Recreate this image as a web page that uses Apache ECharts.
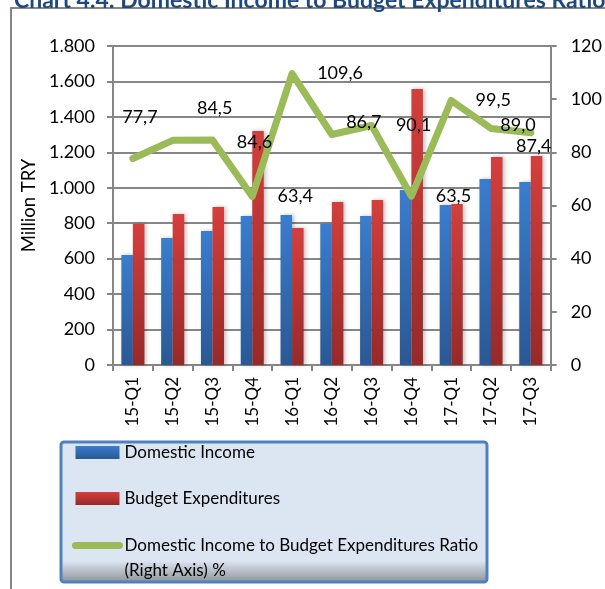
<!DOCTYPE html>
<html>
<head>
<meta charset="utf-8">
<title>Domestic Income to Budget Expenditures Ratio</title>
<script src="https://cdn.jsdelivr.net/npm/echarts@6/dist/echarts.min.js"></script>
<style>
  html, body { margin: 0; padding: 0; background: #fff; }
  #chart { width: 605px; height: 589px; }
</style>
</head>
<body>
<div id="chart"></div>
<script>
// quarters
var quarters = ['15-Q1', '15-Q2', '15-Q3', '15-Q4', '16-Q1', '16-Q2', '16-Q3', '16-Q4', '17-Q1', '17-Q2', '17-Q3'];
// million TRY
var domesticIncome = [620, 717, 756, 841, 846, 796, 841, 988, 903, 1050, 1033];
var budgetExpenditures = [795, 852, 892, 1320, 773, 920, 931, 1558, 909, 1174, 1179];
// ratio % (right axis)
var ratio = [77.7, 84.5, 84.6, 63.4, 109.6, 86.7, 90.1, 63.5, 99.5, 89.0, 87.4];

var seriesNames = ['Domestic Income', 'Budget Expenditures', 'Domestic Income to Budget Expenditures Ratio\n(Right Axis) %'];

// excel put the data labels in odd places, keep them where they were
var ratioLabelOffsets = [[7, -41], [42, -32], [42, 2], [43, 0], [48, 0], [32, -12], [42, 0], [42, 0], [42, 0], [27, -3], [3, 14]];

var font = 'Lato';
var grey = '#868686';

function grad(top, bottom) {
    return new echarts.graphic.LinearGradient(0, 0, 0, 1, [
        { offset: 0, color: top },
        { offset: 1, color: bottom }
    ]);
}

var chart = echarts.init(document.getElementById('chart'));

chart.setOption({
    backgroundColor: '#fff',
    animation: false,
    title: {
        text: 'Chart 4.4: Domestic Income to Budget Expenditures Ratio',
        left: 9,
        top: -16,
        textStyle: { fontFamily: font, fontSize: 23, fontWeight: 'bold', color: '#1f497d' }
    },
    graphic: [
        {   // outer frame
            type: 'rect',
            shape: { x: 11, y: 8, width: 700, height: 700 },
            style: { fill: 'none', stroke: grey, lineWidth: 2 },
            z: -10
        },
        {   // legend box
            type: 'rect',
            shape: { x: 61, y: 442, width: 426, height: 140, r: 3 },
            style: {
                fill: new echarts.graphic.LinearGradient(0, 0, 0, 1, [
                    { offset: 0, color: '#dce6f2' },
                    { offset: 0.84, color: '#dce6f2' },
                    { offset: 1, color: '#8a8e94' }
                ]),
                stroke: '#4f81bd',
                lineWidth: 3
            },
            z: 5
        }
    ],
    grid: { left: 113, right: 54, top: 46, bottom: 224 },
    legend: {
        orient: 'vertical',
        left: 72,
        top: 416,
        height: 300,
        padding: 0,
        itemWidth: 44,
        itemHeight: 13,
        itemGap: -27,
        z: 6,
        // blank first line keeps the icon level with the first text line
        formatter: function (name) { return name === seriesNames[2] ? ' \n' + name : name; },
        textStyle: { fontFamily: font, fontSize: 17, color: '#000', lineHeight: 73 },
        data: [
            { name: seriesNames[0], icon: 'rect' },
            { name: seriesNames[1], icon: 'rect' },
            {
                name: seriesNames[2],
                itemStyle: { opacity: 0 },
                lineStyle: { width: 7, cap: 'round' },
                textStyle: { lineHeight: 25 }
            }
        ]
    },
    xAxis: {
        type: 'category',
        data: quarters,
        axisLine: { lineStyle: { color: grey, width: 2 } },
        axisTick: { show: true, length: 6, lineStyle: { color: grey, width: 2 } },
        axisLabel: { rotate: 90, interval: 0, margin: 12, fontFamily: font, fontSize: 17, color: '#000' }
    },
    yAxis: [
        {
            type: 'value',
            min: 0,
            max: 1800,
            interval: 200,
            name: 'Million TRY',
            nameLocation: 'middle',
            nameGap: 72,
            nameTextStyle: { fontFamily: font, fontSize: 18.5, color: '#000' },
            axisLine: { show: true, lineStyle: { color: grey, width: 2 } },
            axisTick: { show: true, length: 6, lineStyle: { color: grey, width: 2 } },
            splitLine: { lineStyle: { color: grey, width: 2 } },
            axisLabel: {
                margin: 18,
                fontFamily: font,
                fontSize: 18,
                color: '#000',
                formatter: function (v) { return String(v).replace(/\B(?=(\d{3})+(?!\d))/g, '.'); }
            }
        },
        {
            type: 'value',
            min: 0,
            max: 120,
            interval: 20,
            position: 'right',
            axisLine: { show: true, lineStyle: { color: grey, width: 2 } },
            axisTick: { show: true, length: 6, lineStyle: { color: grey, width: 2 } },
            splitLine: { show: false },
            axisLabel: { margin: 20, fontFamily: font, fontSize: 18, color: '#000' }
        }
    ],
    series: [
        {
            name: seriesNames[0],
            type: 'bar',
            data: domesticIncome,
            barGap: '0%',
            barCategoryGap: '42%',
            itemStyle: {
                color: grad('#3a7dcf', '#2a5894'),
                shadowColor: 'rgba(0,0,0,0.25)',
                shadowBlur: 4,
                shadowOffsetX: 2
            }
        },
        {
            name: seriesNames[1],
            type: 'bar',
            data: budgetExpenditures,
            itemStyle: {
                color: grad('#d43f3c', '#962a29'),
                shadowColor: 'rgba(0,0,0,0.25)',
                shadowBlur: 4,
                shadowOffsetX: 2
            }
        },
        {
            name: seriesNames[2],
            type: 'line',
            yAxisIndex: 1,
            z: 4,
            symbol: 'circle',
            symbolSize: 0.1,
            itemStyle: { color: '#9bbb59' },
            lineStyle: { color: '#9bbb59', width: 7, cap: 'round', join: 'round' },
            label: {
                show: true,
                position: 'inside',
                fontFamily: font,
                fontSize: 18,
                color: '#000',
                formatter: function (p) { return p.value.toFixed(1).replace('.', ','); }
            },
            data: ratio.map(function (v, i) {
                return { value: v, label: { offset: ratioLabelOffsets[i] } };
            })
        }
    ]
});
</script>
</body>
</html>
